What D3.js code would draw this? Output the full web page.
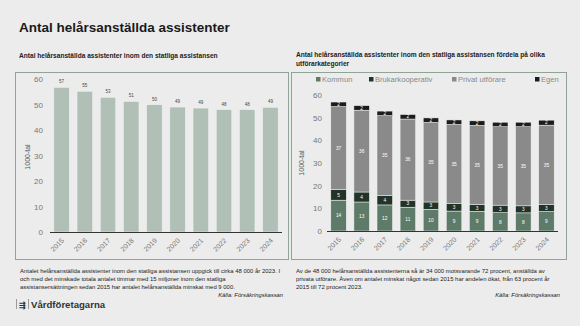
<!DOCTYPE html>
<html>
<head>
<meta charset="utf-8">
<script src="https://cdn.jsdelivr.net/npm/d3@7"></script>
<style>
  body { margin: 0; background: #ececec; }
  svg { display: block; font-family: "Liberation Sans", Arial, sans-serif; }
</style>
</head>
<body>
<script>
const years = ["2015","2016","2017","2018","2019","2020","2021","2022","2023","2024"];
const totals = [56.7, 55.2, 52.8, 51.2, 49.9, 49.0, 48.6, 48.0, 48.0, 48.9];
const kommun = [13.6, 12.8, 11.5, 10.5, 9.6, 8.8, 8.7, 8.1, 8.0, 8.6];
const brukar = [4.7, 4.4, 4.2, 3.1, 3.2, 3.3, 3.0, 3.3, 3.1, 3.0];
const privat = [36.6, 36.1, 35.2, 35.8, 35.1, 34.9, 34.9, 34.6, 34.9, 35.1];
const egen = [2.0, 2.0, 2.0, 2.0, 2.0, 2.0, 2.0, 2.0, 2.0, 2.2];
const seriesNames = ["Kommun", "Brukarkooperativ", "Privat utförare", "Egen"];
const seriesColors = ["#5e7b6a", "#22342a", "#8a8a8a", "#1c1c1c"];
const yTicks = [0, 10, 20, 30, 40, 50, 60];

const W = 580, H = 326;
const svg = d3.select("body").append("svg").attr("width", W).attr("height", H);

svg.append("text").attr("x", 19).attr("y", 32)
  .attr("font-size", 13.5).attr("font-weight", "bold").attr("fill", "#1a1a1a")
  .text("Antal helårsanställda assistenter");

// panels
svg.append("rect").attr("x", 15.5).attr("y", 72.5).attr("width", 273).attr("height", 187)
  .attr("fill", "none").attr("stroke", "#8fa397").attr("stroke-width", 1);
svg.append("rect").attr("x", 291.5).attr("y", 72.5).attr("width", 275).attr("height", 187)
  .attr("fill", "none").attr("stroke", "#8fa397").attr("stroke-width", 1);

svg.append("text").attr("x", 19).attr("y", 58).attr("font-size", 6.6).attr("font-weight", "bold")
  .attr("fill", "#222").text("Antal helårsanställda assistenter inom den  statliga assistansen");
svg.append("text").attr("x", 296).attr("y", 57).attr("font-size", 6.6).attr("font-weight", "bold")
  .attr("fill", "#222").text("Antal helårsanställda assistenter inom den  statliga assistansen fördela på olika");
svg.append("text").attr("x", 296).attr("y", 66).attr("font-size", 6.6).attr("font-weight", "bold")
  .attr("fill", "#222").text("utförarkategorier");

// ---- left chart
const xL = d3.scaleBand().domain(years).range([50, 282]).paddingInner(0.33).paddingOuter(0.165);
const yL = d3.scaleLinear().domain([0, 60]).range([232, 79]);

const gL = svg.append("g");
gL.selectAll("text.yt").data(yTicks).join("text")
  .attr("x", 43).attr("y", d => yL(d) + 3).attr("text-anchor", "end")
  .attr("font-size", 8).attr("fill", "#777").text(d => d);
gL.selectAll("rect").data(totals).join("rect")
  .attr("x", (d, i) => xL(years[i])).attr("width", xL.bandwidth())
  .attr("y", d => yL(d)).attr("height", d => yL(0) - yL(d))
  .attr("fill", "#b1c0b6").attr("stroke", "#f4f4f4").attr("stroke-width", 0.5);
gL.selectAll("text.v").data(totals).join("text")
  .attr("x", (d, i) => xL(years[i]) + xL.bandwidth() / 2).attr("y", d => yL(d) - 4)
  .attr("text-anchor", "middle").attr("font-size", 4.5).attr("fill", "#444")
  .text(d => d3.format(".0f")(d));
gL.append("line").attr("x1", 50).attr("x2", 282).attr("y1", yL(0) + 0.5).attr("y2", yL(0) + 0.5)
  .attr("stroke", "#333").attr("stroke-width", 1);
gL.selectAll("text.x").data(years).join("text")
  .attr("transform", d => `translate(${xL(d) + xL.bandwidth() / 2 + 3},${yL(0) + 9}) rotate(-45)`)
  .attr("text-anchor", "end").attr("font-size", 7).attr("fill", "#777").text(d => d);
gL.append("text").attr("transform", `translate(30,157) rotate(-90)`)
  .attr("text-anchor", "middle").attr("font-size", 7).attr("fill", "#555").text("1000-tal");

// ---- right chart
const xR = d3.scaleBand().domain(years).range([327, 558]).paddingInner(0.33).paddingOuter(0.165);
const yR = d3.scaleLinear().domain([0, 60]).range([231, 95]);
const gR = svg.append("g");
gR.selectAll("text.yt").data(yTicks).join("text")
  .attr("x", 322).attr("y", d => yR(d) + 3).attr("text-anchor", "end")
  .attr("font-size", 8).attr("fill", "#777").text(d => d);

const table = years.map((y, i) => ({ year: y, Kommun: kommun[i], Brukarkooperativ: brukar[i],
  "Privat utförare": privat[i], Egen: egen[i] }));
const stacked = d3.stack().keys(seriesNames)(table);
const layers = gR.selectAll("g.layer").data(stacked).join("g")
  .attr("fill", (d, i) => seriesColors[i]);
layers.selectAll("rect").data(d => d).join("rect")
  .attr("x", d => xR(d.data.year)).attr("width", xR.bandwidth())
  .attr("y", d => yR(d[1])).attr("height", d => yR(d[0]) - yR(d[1]))
  .attr("stroke", "#f4f4f4").attr("stroke-width", 0.5);
layers.selectAll("text").data(d => d.map(v => ({ v, key: d.key }))).join("text")
  .attr("x", d => xR(d.v.data.year) + xR.bandwidth() / 2)
  .attr("y", d => (yR(d.v[0]) + yR(d.v[1])) / 2 + 1.7)
  .attr("text-anchor", "middle").attr("font-size", 4.8).attr("fill", "#fff")
  .text(d => d3.format(".0f")(d.v.data[d.key]));
gR.append("line").attr("x1", 327).attr("x2", 558).attr("y1", yR(0) + 0.5).attr("y2", yR(0) + 0.5)
  .attr("stroke", "#333").attr("stroke-width", 1);
gR.selectAll("text.x").data(years).join("text")
  .attr("transform", d => `translate(${xR(d) + xR.bandwidth() / 2 + 3},${yR(0) + 9}) rotate(-45)`)
  .attr("text-anchor", "end").attr("font-size", 7).attr("fill", "#777").text(d => d);
gR.append("text").attr("transform", `translate(304,163) rotate(-90)`)
  .attr("text-anchor", "middle").attr("font-size", 7).attr("fill", "#555").text("1000-tal");

// legend
const legX = [316, 369, 452, 535];
const leg = svg.append("g").selectAll("g").data(seriesNames).join("g")
  .attr("transform", (d, i) => `translate(${legX[i]},82)`);
leg.append("rect").attr("x", 0).attr("y", -5).attr("width", 4.5).attr("height", 4.5)
  .attr("fill", (d, i) => seriesColors[i]);
leg.append("text").attr("x", 6).attr("y", 0).attr("font-size", 7.6).attr("fill", "#888").text(d => d);

// footnotes
const noteL = ["Antalet helårsanställda assistenter inom den statliga assistansen uppgick till cirka 48 000 år 2023. I",
  "och med det minskade totala antalet timmar med 15 miljoner inom den statliga",
  "assistansersättningen sedan 2015 har antalet helårsanställda minskat med 9 000."];
const noteR = ["Av de 48 000 helårsanställda assistenterna så är 34 000 motsvarande 72 procent, anställda av",
  "privata utförare. Även om antalet minskat något sedan 2015 har andelen ökat, från 63 procent år",
  "2015 till 72 procent 2023."];
svg.append("g").selectAll("text").data(noteL).join("text")
  .attr("x", 20).attr("y", (d, i) => 273 + i * 8).attr("font-size", 5.95).attr("fill", "#222").text(d => d);
svg.append("g").selectAll("text").data(noteR).join("text")
  .attr("x", 296).attr("y", (d, i) => 273 + i * 8).attr("font-size", 5.95).attr("fill", "#222").text(d => d);
svg.append("text").attr("x", 283).attr("y", 297).attr("text-anchor", "end").attr("font-size", 5.8)
  .attr("font-style", "italic").attr("fill", "#222").text("Källa: Försäkringskassan");
svg.append("text").attr("x", 560).attr("y", 297).attr("text-anchor", "end").attr("font-size", 5.8)
  .attr("font-style", "italic").attr("fill", "#222").text("Källa: Försäkringskassan");

// logo
svg.append("line").attr("x1", 16.5).attr("x2", 16.5).attr("y1", 299).attr("y2", 309).attr("stroke", "#999");
svg.append("text").attr("x", 18.5).attr("y", 308).attr("font-size", 8).attr("font-weight", "bold")
  .attr("fill", "#333").text("⇶");
svg.append("line").attr("x1", 28.5).attr("x2", 28.5).attr("y1", 299).attr("y2", 309).attr("stroke", "#999");
svg.append("text").attr("x", 31).attr("y", 308).attr("font-size", 9.6).attr("font-weight", "bold")
  .attr("fill", "#333").text("Vårdföretagarna");
</script>
</body>
</html>
